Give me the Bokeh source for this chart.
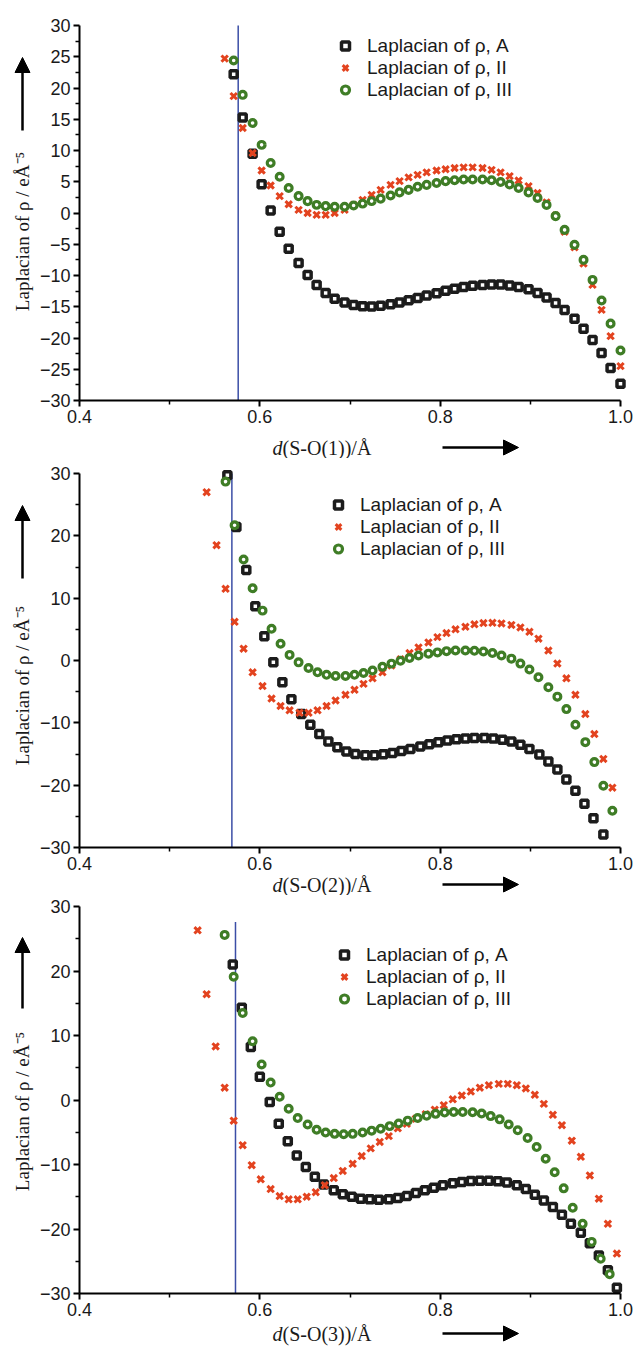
import math
from bokeh.plotting import figure
from bokeh.models import Range1d, FixedTicker, Label, Arrow, NormalHead, PrintfTickFormatter
from bokeh.layouts import column
from bokeh.embed import file_html
from bokeh.resources import INLINE

# ------------------------------------------------------------------ data
series_names = ["Laplacian of ρ, A", "Laplacian of ρ, II", "Laplacian of ρ, III"]
x_labels = ["(S-O(1))/Å", "(S-O(2))/Å", "(S-O(3))/Å"]
y_label = "Laplacian of ρ / eÅ⁻⁵"

# panel 1 : S-O(1)
x1_II = [0.561, 0.571, 0.581, 0.592, 0.602, 0.612, 0.622, 0.632, 0.643, 0.653,
         0.663, 0.673, 0.683, 0.694, 0.704, 0.714, 0.724, 0.734, 0.745, 0.755,
         0.765, 0.775, 0.785, 0.796, 0.806, 0.816, 0.826, 0.836, 0.847, 0.857,
         0.867, 0.877, 0.887, 0.898, 0.908, 0.918, 0.928, 0.938, 0.949, 0.959,
         0.969, 0.979, 0.989, 1.000]
y1_II = [24.7, 18.7, 13.6, 9.6, 6.8, 4.4, 2.7, 1.4, 0.5, 0.0,
         -0.3, -0.3, 0.0, 0.5, 1.3, 2.1, 2.9, 3.7, 4.5, 5.1,
         5.7, 6.1, 6.5, 6.8, 7.0, 7.2, 7.3, 7.3, 7.2, 6.9,
         6.5, 5.9, 5.2, 4.3, 3.2, 1.7, -0.4, -3.0, -5.5, -8.1,
         -11.5, -15.5, -19.7, -24.5]
x1_A = x1_II[1:]
y1_A = [22.2, 15.3, 9.5, 4.6, 0.4, -3.0, -5.7, -8.0, -9.9, -11.5,
        -12.8, -13.7, -14.3, -14.7, -14.9, -14.95, -14.85, -14.6, -14.3, -13.95,
        -13.6, -13.2, -12.85, -12.45, -12.1, -11.85, -11.65, -11.5, -11.45, -11.45,
        -11.6, -11.85, -12.2, -12.8, -13.5, -14.4, -15.5, -16.9, -18.5, -20.3,
        -22.4, -24.8, -27.3]
x1_III = x1_II[1:]
y1_III = [24.4, 18.9, 14.4, 10.9, 8.0, 5.8, 4.0, 2.7, 1.9, 1.3,
          1.1, 1.0, 1.0, 1.2, 1.5, 1.9, 2.3, 2.8, 3.3, 3.7,
          4.2, 4.5, 4.8, 5.1, 5.25, 5.35, 5.35, 5.35, 5.25, 4.95,
          4.55, 4.0, 3.3, 2.4, 1.3, -0.5, -2.7, -5.1, -7.5, -10.7,
          -14.0, -17.7, -22.0]

# panel 2 : S-O(2)
x2_A = [0.564, 0.574, 0.585, 0.595, 0.605, 0.615, 0.625, 0.635, 0.646, 0.656,
        0.666, 0.676, 0.686, 0.696, 0.706, 0.717, 0.727, 0.737, 0.747, 0.757,
        0.767, 0.778, 0.788, 0.798, 0.808, 0.818, 0.828, 0.838, 0.849, 0.859,
        0.869, 0.879, 0.889, 0.899, 0.910, 0.920, 0.930, 0.940, 0.950, 0.960,
        0.970, 0.981]
y2_A = [29.7, 21.4, 14.5, 8.7, 3.9, -0.3, -3.5, -6.2, -8.6, -10.3,
        -11.8, -13.0, -13.9, -14.6, -15.0, -15.2, -15.2, -15.05, -14.85, -14.5,
        -14.2, -13.8, -13.45, -13.1, -12.85, -12.65, -12.5, -12.45, -12.45, -12.5,
        -12.7, -13.0, -13.5, -14.2, -15.1, -16.2, -17.5, -19.1, -20.9, -23.0,
        -25.3, -27.9]
x2_II = [0.541, 0.552, 0.562, 0.572, 0.582, 0.592, 0.603, 0.613, 0.623, 0.633,
         0.644, 0.654, 0.664, 0.674, 0.684, 0.695, 0.705, 0.715, 0.725, 0.736,
         0.746, 0.756, 0.766, 0.776, 0.787, 0.797, 0.807, 0.817, 0.828, 0.838,
         0.848, 0.858, 0.868, 0.879, 0.889, 0.899, 0.909, 0.920, 0.930, 0.940,
         0.950, 0.961, 0.971, 0.981, 0.991]
y2_II = [27.0, 18.5, 11.5, 6.2, 1.9, -1.9, -4.1, -6.1, -7.3, -8.0,
         -8.4, -8.4, -8.0, -7.3, -6.4, -5.5, -4.7, -3.75, -2.85, -1.9,
         -0.8, 0.2, 1.2, 2.1, 2.9, 3.75, 4.4, 5.0, 5.4, 5.8,
         6.0, 6.05, 5.95, 5.7, 5.3, 4.6, 3.5, 1.6, -0.5, -2.85,
         -5.5, -8.6, -11.8, -15.8, -20.4]
x2_III = [0.562, 0.572, 0.582, 0.592, 0.603, 0.613, 0.623, 0.633, 0.643, 0.654,
          0.664, 0.674, 0.684, 0.695, 0.705, 0.715, 0.725, 0.736, 0.746, 0.756,
          0.766, 0.776, 0.787, 0.797, 0.807, 0.817, 0.828, 0.838, 0.848, 0.858,
          0.868, 0.879, 0.889, 0.899, 0.909, 0.920, 0.930, 0.940, 0.950, 0.961,
          0.971, 0.981, 0.991]
y2_III = [28.7, 21.7, 16.2, 11.6, 8.0, 5.1, 2.7, 0.9, -0.3, -1.2,
          -1.9, -2.3, -2.5, -2.5, -2.3, -2.0, -1.6, -1.0, -0.5, -0.05,
          0.4, 0.8, 1.1, 1.3, 1.5, 1.6, 1.6, 1.55, 1.45, 1.2,
          0.8, 0.3, -0.5, -1.45, -2.7, -4.3, -5.8, -7.8, -10.3, -13.1,
          -16.3, -20.1, -24.1]

# panel 3 : S-O(3)
x3_A = [0.570, 0.580, 0.590, 0.600, 0.611, 0.621, 0.631, 0.641, 0.651, 0.661,
        0.671, 0.682, 0.692, 0.702, 0.712, 0.722, 0.732, 0.743, 0.753, 0.763,
        0.773, 0.783, 0.793, 0.803, 0.814, 0.824, 0.834, 0.844, 0.854, 0.864,
        0.874, 0.885, 0.895, 0.905, 0.915, 0.925, 0.935, 0.945, 0.956, 0.966,
        0.976, 0.986, 0.996]
y3_A = [21.0, 14.3, 8.2, 3.6, -0.3, -3.7, -6.4, -8.6, -10.4, -11.9,
        -13.1, -14.0, -14.6, -15.0, -15.3, -15.4, -15.45, -15.4, -15.2, -14.9,
        -14.4, -14.0, -13.6, -13.2, -12.9, -12.7, -12.55, -12.5, -12.5, -12.6,
        -12.8, -13.2, -13.8, -14.7, -15.6, -16.6, -17.8, -19.2, -20.6, -22.2,
        -24.1, -26.4, -29.1]
x3_II = [0.531, 0.541, 0.551, 0.561, 0.571, 0.581, 0.591, 0.601, 0.612, 0.622,
         0.632, 0.642, 0.652, 0.662, 0.672, 0.682, 0.692, 0.703, 0.713, 0.723,
         0.733, 0.743, 0.753, 0.763, 0.773, 0.784, 0.794, 0.804, 0.814, 0.824,
         0.834, 0.844, 0.854, 0.865, 0.875, 0.885, 0.895, 0.905, 0.915, 0.925,
         0.935, 0.946, 0.956, 0.966, 0.976, 0.986, 0.996]
y3_II = [26.3, 16.4, 8.3, 1.9, -3.2, -7.0, -10.1, -12.3, -13.8, -14.9,
         -15.4, -15.4, -15.0, -14.3, -13.2, -12.1, -11.0, -9.9, -8.7, -7.5,
         -6.5, -5.6, -4.4, -3.7, -2.9, -2.2, -1.5, -0.8, 0.1, 0.7,
         1.3, 1.9, 2.3, 2.5, 2.5, 2.3, 1.8, 0.8, -0.6, -2.3,
         -3.9, -6.3, -8.8, -11.7, -15.3, -19.2, -23.8]
x3_III = [0.561, 0.571, 0.581, 0.592, 0.602, 0.612, 0.622, 0.632, 0.642, 0.653,
          0.663, 0.673, 0.683, 0.693, 0.703, 0.714, 0.724, 0.734, 0.744, 0.754,
          0.764, 0.775, 0.785, 0.795, 0.805, 0.815, 0.825, 0.836, 0.846, 0.856,
          0.866, 0.876, 0.886, 0.897, 0.907, 0.917, 0.927, 0.937, 0.947, 0.958,
          0.968, 0.978, 0.988]
y3_III = [25.6, 19.1, 13.5, 9.1, 5.5, 2.7, 0.5, -1.35, -2.8, -3.8,
          -4.6, -5.05, -5.25, -5.3, -5.25, -5.05, -4.75, -4.45, -4.05, -3.65,
          -3.2, -2.8, -2.45, -2.15, -1.95, -1.85, -1.85, -1.9, -2.1, -2.5,
          -3.0, -3.8, -4.7, -5.9, -7.3, -9.1, -11.2, -13.7, -16.7, -19.2,
          -22.0, -24.6, -27.0]

# vertical (blue) reference line in each panel: x position and upper end
bcp_x = [0.576, 0.569, 0.573]
bcp_top = [30.0, 30.0, 27.6]

x_ticks = [0.4, 0.6, 0.8, 1.0]
x_minor = [0.5, 0.7, 0.9]

# ------------------------------------------------------------------ style / layout
SANS = "Liberation Sans"
SERIF = "Liberation Serif"
C_A = "#1c1c1c"
C_II = "#e3431f"
C_III = "#3f7d26"
C_BCP = "#3b4ea6"
TXT = "#1a1a1a"
W = 637
FR_L, FR_R = 79, 620          # data frame left / right (px)
KX = (FR_R - FR_L) / 0.6

panels = [
    dict(xA=x1_A, yA=y1_A, xII=x1_II, yII=y1_II, xIII=x1_III, yIII=y1_III,
         top=0, h=458, fr_top=25, fr_bot=400, ystep=5,
         xlab_y=447, ylab_cy=231, yarr=(130, 57), leg=(335, 48)),
    dict(xA=x2_A, yA=y2_A, xII=x2_II, yII=y2_II, xIII=x2_III, yIII=y2_III,
         top=458, h=437, fr_top=473, fr_bot=847, ystep=10,
         xlab_y=884, ylab_cy=685, yarr=(578, 505), leg=(328, 507)),
    dict(xA=x3_A, yA=y3_A, xII=x3_II, yII=y3_II, xIII=x3_III, yIII=y3_III,
         top=895, h=455, fr_top=906, fr_bot=1293, ystep=10,
         xlab_y=1333, ylab_cy=1111, yarr=(1008, 937), leg=(334, 957)),
]


def fmt(v):
    return ("−" + str(abs(v))) if v < 0 else str(v)


figs = []
for i, P in enumerate(panels):
    ky = (P["fr_bot"] - P["fr_top"]) / 60.0
    y_end = 30 + (P["fr_top"] - P["top"]) / ky
    y_start = -30 - (P["top"] + P["h"] - P["fr_bot"]) / ky
    x_start = 0.4 - FR_L / KX
    x_end = 1.0 + (W - FR_R) / KX

    p = figure(width=W, height=P["h"], output_backend="svg", toolbar_location=None,
               title=None, x_range=Range1d(x_start, x_end), y_range=Range1d(y_start, y_end),
               min_border=0, min_border_left=0, min_border_right=0,
               min_border_top=0, min_border_bottom=0)
    p.outline_line_color = None
    p.grid.visible = False
    p.background_fill_color = "white"

    def dx(px):
        return 0.4 + (px - FR_L) / KX

    def dy(py, P=P, ky=ky):
        return 30 - (py - P["fr_top"]) / ky

    step = P["ystep"]
    yt = list(range(-30, 31, step))
    ym = [v + step / 2 for v in yt[:-1]]
    p.yaxis.ticker = FixedTicker(ticks=yt, minor_ticks=ym)
    p.yaxis.major_label_overrides = {v: fmt(v) for v in yt}
    p.yaxis.bounds = (-30, 30)
    p.yaxis.fixed_location = 0.4
    p.xaxis.ticker = FixedTicker(ticks=x_ticks, minor_ticks=x_minor)
    p.xaxis.formatter = PrintfTickFormatter(format="%.1f")
    p.xaxis.bounds = (0.4, 1.0)
    p.xaxis.fixed_location = -30
    for ax in (p.xaxis[0], p.yaxis[0]):
        ax.axis_line_width = 2
        ax.axis_line_color = "black"
        ax.major_tick_line_width = 2
        ax.major_tick_out = 6
        ax.major_tick_in = 0
        ax.minor_tick_line_width = 1.5
        ax.minor_tick_out = 4
        ax.minor_tick_in = 0
        ax.major_label_text_font = SANS
        ax.major_label_text_font_size = "18px"
        ax.major_label_text_color = TXT
    p.yaxis.major_label_standoff = 3
    p.xaxis.major_label_standoff = 3

    # vertical reference line
    p.segment(x0=[bcp_x[i]], y0=[-30], x1=[bcp_x[i]], y1=[bcp_top[i]],
              line_color=C_BCP, line_width=1.5)

    p.scatter(P["xA"], P["yA"], marker="square", size=7, fill_color="white",
              line_color=C_A, line_width=3.5, legend_label=series_names[0])
    p.scatter(P["xII"], P["yII"], marker="x", size=9, line_color=C_II,
              line_width=3, legend_label=series_names[1])
    p.scatter(P["xIII"], P["yIII"], marker="circle", size=6.8, fill_color="white",
              line_color=C_III, line_width=3.2, legend_label=series_names[2])

    lg = p.legend[0]
    lg.padding = 0
    lg.margin = 0
    lg.spacing = 0
    lg.glyph_width = 20
    lg.glyph_height = 21
    lg.label_height = 21
    lg.label_standoff = 12
    lg.label_text_font = SANS
    lg.label_text_font_size = "19px"
    lg.label_text_color = TXT
    lg.background_fill_alpha = 0
    lg.border_line_alpha = 0
    leg_left, row1 = P["leg"]
    leg_bottom = row1 - 10.5 + 63 - P["top"]
    lg.location = (leg_left, P["h"] - leg_bottom)

    # x axis label: italic d + rest, and arrow
    yl = dy(P["xlab_y"])
    p.add_layout(Label(x=dx(272), y=yl, text="d", text_font=SERIF,
                       text_font_style="italic", text_font_size="20px",
                       text_color=TXT, text_align="left", text_baseline="middle"))
    p.add_layout(Label(x=dx(282), y=yl, text=x_labels[i], text_font=SERIF,
                       text_font_size="20px", text_color=TXT,
                       text_align="left", text_baseline="middle"))
    p.add_layout(Arrow(end=NormalHead(size=15, fill_color="black", line_color="black"),
                       x_start=dx(442), y_start=yl, x_end=dx(518), y_end=yl,
                       line_width=2.5, line_color="black"))

    # y axis label (rotated) and arrow
    p.add_layout(Label(x=dx(22), y=dy(P["ylab_cy"]), text=y_label, angle=math.pi / 2,
                       text_font=SERIF, text_font_size="19px", text_color=TXT,
                       text_align="center", text_baseline="middle"))
    p.add_layout(Arrow(end=NormalHead(size=15, fill_color="black", line_color="black"),
                       x_start=dx(22), y_start=dy(P["yarr"][0]),
                       x_end=dx(22), y_end=dy(P["yarr"][1]),
                       line_width=2.5, line_color="black"))
    figs.append(p)

layout = column(*figs, spacing=0)
open("out.html", "w").write(file_html(layout, INLINE))
